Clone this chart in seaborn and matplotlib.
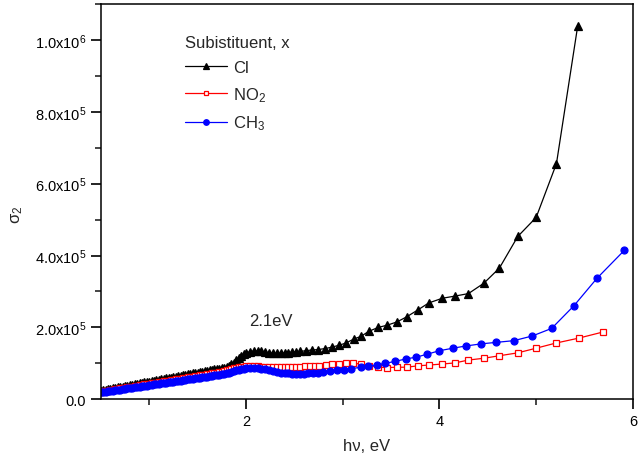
import matplotlib
matplotlib.use("Agg")
import matplotlib.pyplot as plt
import seaborn as sns
import pandas as pd
from matplotlib.ticker import FixedLocator, FixedFormatter, MultipleLocator

# ---- data (sigma_2 values in units of 1e4) ----
x_low = [0.500, 0.525, 0.550, 0.575, 0.600, 0.625, 0.650, 0.675, 0.700, 0.725,
         0.750, 0.775, 0.800, 0.825, 0.850, 0.875, 0.900, 0.925, 0.950, 0.975,
         1.000, 1.025, 1.050, 1.075, 1.100, 1.125, 1.150, 1.175, 1.200, 1.225,
         1.250, 1.275, 1.300, 1.325, 1.350, 1.375, 1.400, 1.425, 1.450, 1.475,
         1.500, 1.525, 1.550, 1.575, 1.600, 1.625, 1.650, 1.675, 1.700, 1.725,
         1.750, 1.775, 1.800, 1.825, 1.850, 1.875, 1.900, 1.925, 1.950, 1.975,
         2.00, 2.04, 2.08, 2.12, 2.16, 2.20, 2.24, 2.28, 2.32, 2.36,
         2.40, 2.44, 2.48, 2.52]

cl_low = [2.4, 2.5, 2.7, 2.8, 2.9, 3.0, 3.2, 3.3, 3.4, 3.5,
          3.7, 3.8, 3.9, 4.0, 4.2, 4.3, 4.4, 4.5, 4.7, 4.8,
          4.9, 5.0, 5.2, 5.3, 5.4, 5.5, 5.7, 5.8, 5.9, 6.0,
          6.2, 6.3, 6.4, 6.5, 6.7, 6.8, 6.9, 7.0, 7.2, 7.3,
          7.4, 7.5, 7.7, 7.8, 7.9, 8.0, 8.2, 8.3, 8.4, 8.5,
          8.7, 8.8, 9.0, 9.3, 9.7, 10.2, 10.8, 11.4, 12.0, 12.5,
          12.9, 13.2, 13.4, 13.4, 13.3, 13.1, 12.9, 12.8, 12.8, 12.8,
          12.9, 13.0, 13.1, 13.2]
cl_x_high = [2.56, 2.62, 2.68, 2.74, 2.82, 2.89, 2.96, 3.03, 3.12, 3.19,
             3.27, 3.37, 3.46, 3.56, 3.66, 3.78, 3.89, 4.03, 4.16, 4.30,
             4.46, 4.62, 4.81, 5.00, 5.21, 5.43]
cl_y_high = [13.3, 13.5, 13.7, 13.8, 14.1, 14.5, 15.0, 15.6, 16.8, 17.5,
             18.9, 20.0, 20.6, 21.5, 22.9, 24.9, 26.8, 28.1, 28.7, 29.4,
             32.3, 36.5, 45.3, 50.6, 65.6, 104.0]

no2_low = [2.1, 2.2, 2.3, 2.4, 2.5, 2.7, 2.8, 2.9, 3.0, 3.1,
           3.2, 3.3, 3.4, 3.5, 3.6, 3.8, 3.9, 4.0, 4.1, 4.2,
           4.3, 4.4, 4.5, 4.6, 4.7, 4.9, 5.0, 5.1, 5.2, 5.3,
           5.4, 5.5, 5.6, 5.7, 5.8, 6.0, 6.1, 6.2, 6.3, 6.4,
           6.5, 6.6, 6.7, 6.8, 6.9, 7.1, 7.2, 7.3, 7.4, 7.5,
           7.6, 7.8, 8.0, 8.2, 8.4, 8.6, 8.8, 8.9, 9.0, 9.1,
           9.2, 9.2, 9.2, 9.2, 9.1, 9.1, 9.0, 9.0, 9.0, 9.0,
           9.0, 9.0, 9.0, 9.0]
no2_x_high = [2.56, 2.61, 2.66, 2.71, 2.76, 2.83, 2.89, 2.96, 3.03, 3.11,
              3.19, 3.27, 3.37, 3.46, 3.56, 3.66, 3.78, 3.89, 4.03, 4.16,
              4.30, 4.46, 4.62, 4.81, 5.00, 5.20, 5.44, 5.69]
no2_y_high = [9.1, 9.2, 9.2, 9.2, 9.2, 9.5, 9.7, 9.9, 10.0, 10.1,
              9.7, 9.3, 8.9, 8.8, 8.9, 8.9, 9.3, 9.5, 9.8, 10.1,
              10.9, 11.4, 12.1, 12.9, 14.2, 15.6, 17.0, 18.7]

ch3_low = [1.9, 2.0, 2.1, 2.2, 2.3, 2.4, 2.5, 2.6, 2.7, 2.8,
           2.9, 3.0, 3.1, 3.2, 3.3, 3.4, 3.5, 3.6, 3.7, 3.8,
           3.9, 4.0, 4.1, 4.2, 4.3, 4.4, 4.5, 4.6, 4.7, 4.8,
           4.9, 5.0, 5.1, 5.2, 5.3, 5.4, 5.5, 5.6, 5.7, 5.8,
           5.9, 6.0, 6.1, 6.2, 6.3, 6.4, 6.5, 6.6, 6.7, 6.8,
           6.9, 7.0, 7.2, 7.4, 7.6, 7.8, 8.0, 8.2, 8.4, 8.5,
           8.7, 8.8, 8.8, 8.7, 8.5, 8.3, 8.0, 7.8, 7.6, 7.4,
           7.3, 7.2, 7.1, 7.0]
ch3_x_high = [2.56, 2.60, 2.64, 2.69, 2.74, 2.80, 2.87, 2.94, 3.01, 3.09,
              3.19, 3.26, 3.35, 3.44, 3.54, 3.65, 3.76, 3.87, 4.00, 4.14,
              4.27, 4.43, 4.58, 4.77, 4.96, 5.16, 5.39, 5.63, 5.91]
ch3_y_high = [7.0, 7.1, 7.2, 7.3, 7.4, 7.6, 7.8, 8.0, 8.2, 8.5,
              8.9, 9.2, 9.5, 10.0, 10.5, 11.2, 11.7, 12.5, 13.5, 14.2,
              14.8, 15.4, 15.8, 16.3, 17.6, 19.7, 26.0, 33.7, 41.4]

scale = 1e4
y_ticks = [0, 2e5, 4e5, 6e5, 8e5, 1e6]
y_tick_labels = ["0.0", "2.0x10$^{5}$", "4.0x10$^{5}$", "6.0x10$^{5}$",
                 "8.0x10$^{5}$", "1.0x10$^{6}$"]
x_ticks = [2, 4, 6]
x_tick_labels = ["2", "4", "6"]

series = [
    ("Cl", x_low + cl_x_high, cl_low + cl_y_high, "black", "^", "black", 5.5),
    ("NO$_2$", x_low + no2_x_high, no2_low + no2_y_high, "red", "s", "white", 4.3),
    ("CH$_3$", x_low + ch3_x_high, ch3_low + ch3_y_high, "blue", "o", "blue", 5.0),
]

sns.set_style("ticks")
plt.rcParams["font.family"] = ["Liberation Sans", "DejaVu Sans"]
plt.rcParams["mathtext.fontset"] = "custom"
plt.rcParams["mathtext.rm"] = "Liberation Sans"
plt.rcParams["mathtext.it"] = "Liberation Sans"

fig = plt.figure(figsize=(6.38, 4.6), dpi=100)
ax = fig.add_axes([0.158, 0.130, 0.834, 0.859])

for name, xs, ys, col, mk, mfc, ms in series:
    df = pd.DataFrame({"x": xs, "y": [v * scale for v in ys]})
    sns.lineplot(data=df, x="x", y="y", ax=ax, color=col, marker=mk,
                 markersize=ms, markerfacecolor=mfc, markeredgecolor=col,
                 markeredgewidth=0.9, linewidth=0.9, label=name,
                 sort=False, estimator=None)

ax.set_xlim(0.5, 6)
ax.set_ylim(0, 1.1e6)
ax.xaxis.set_major_locator(FixedLocator(x_ticks))
ax.xaxis.set_major_formatter(FixedFormatter(x_tick_labels))
ax.xaxis.set_minor_locator(MultipleLocator(1))
ax.yaxis.set_major_locator(FixedLocator(y_ticks))
ax.yaxis.set_major_formatter(FixedFormatter(y_tick_labels))
ax.yaxis.set_minor_locator(MultipleLocator(1e5))
ax.tick_params(which="major", direction="out", length=7, width=1.2,
               labelsize=10.5, colors="black")
ax.tick_params(which="minor", direction="out", length=4, width=1.2)
for sp in ax.spines.values():
    sp.set_linewidth(1.1)
    sp.set_color("black")

ax.set_xlabel("h\u03bd, eV", fontsize=12, labelpad=7)
ax.set_ylabel("\u03c3$_2$", fontsize=12)
ax.yaxis.set_label_coords(-0.143, 0.47)

ax.text(2.26, 2.18e5, "2.1eV", fontsize=12, ha="center", va="center")

leg = ax.legend(loc="upper left", bbox_to_anchor=(0.13, 0.96), frameon=False,
                title="Subistituent, x", fontsize=12, title_fontsize=12,
                handlelength=2.5, labelspacing=0.6, handletextpad=0.4,
                markerscale=0.8)
leg._legend_box.align = "left"

fig.savefig("out.png", dpi=100)
